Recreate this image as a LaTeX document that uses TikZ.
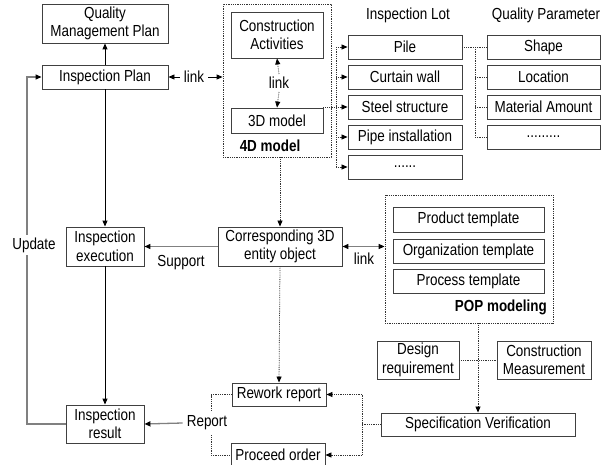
\documentclass[tikz,border=0pt]{standalone}
\usepackage{fontspec}
\setmainfont{Liberation Sans}[FakeStretch=0.84]
\usetikzlibrary{arrows.meta}

\tikzset{
  box/.style={draw=black!75, line width=0.9pt, fill=white, inner sep=0pt, align=center},
  frame/.style={draw=black!80, line width=0.8pt, densely dotted, inner sep=0pt},
  lbl/.style={inner sep=3pt, fill=white},
  head/.style={inner sep=0pt},
  solidarr/.style={draw=black, line width=0.9pt, -{Triangle[length=6pt,width=5pt]}},
  grayline/.style={draw=black!50, line width=1.3pt},
  grayarr/.style={grayline, -{Triangle[length=6pt,width=5pt,color=black]}},
  grayboth/.style={grayline, {Triangle[length=6pt,width=5pt,color=black]}-{Triangle[length=6pt,width=5pt,color=black]}},
  dotline/.style={draw=black!80, line width=0.8pt, densely dotted},
  dotarr/.style={dotline, -{Triangle[length=6pt,width=5pt,color=black]}},
}

% box given by its corners: name, x1, y1, x2, y2, text
\newcommand\bx[6]{\node[box, minimum width={(#4-#2)*1pt}, minimum height={(#5-#3)*1pt}]
  (#1) at ({(#2+#4)/2},{(#3+#5)/2}) {#6};}
% dotted grouping frame: name, x1, y1, x2, y2
\newcommand\fr[5]{\node[frame, minimum width={(#4-#2)*1pt}, minimum height={(#5-#3)*1pt}]
  (#1) at ({(#2+#4)/2},{(#3+#5)/2}) {};}

\begin{document}
\begin{tikzpicture}[x=1pt, y=-1pt, font=\fontsize{16}{18.5}\selectfont]
\useasboundingbox (0,0) rectangle (610,465);

% ---- planning side
\bx{qmp}{42}{4}{168}{43}{Quality\\Management Plan}
\bx{iplan}{42}{65}{168}{89}{Inspection Plan}

% ---- 4D model group
\fr{fourd}{223}{4}{331}{157}
\bx{ca}{231}{12}{323}{58}{Construction\\Activities}
\bx{m3d}{231}{108}{323}{133}{3D model}
\node[head, font=\fontsize{16}{18.5}\selectfont\bfseries] (fourdlbl) at (270,146) {4D model};

% ---- inspection lots
\node[head] (lothead) at (408,15) {Inspection Lot};
\bx{pile}{348}{35}{462}{59}{Pile}
\bx{curtain}{348}{65}{462}{89}{Curtain wall}
\bx{steel}{348}{95}{462}{119}{Steel structure}
\bx{pipe}{348}{125}{462}{149}{Pipe installation}
\bx{lotmore}{348}{155}{462}{179}{......}

% ---- quality parameters
\node[head] (qphead) at (546,15) {Quality Parameter};
\bx{shape}{487}{35}{600}{59}{Shape}
\bx{location}{487}{65}{600}{89}{Location}
\bx{material}{487}{95}{600}{119}{Material Amount}
\bx{qpmore}{487}{125}{600}{149}{.........}

% ---- execution row
\bx{iexec}{66}{227}{144}{266}{Inspection\\execution}
\bx{corr}{218}{227}{342}{266}{Corresponding 3D\\entity object}

% ---- POP modeling group
\fr{pop}{385}{195}{553}{323}
\bx{prod}{393}{207}{544}{232}{Product template}
\bx{org}{393}{239}{544}{263}{Organization template}
\bx{proc}{393}{269}{544}{293}{Process template}
\node[head, font=\fontsize{16}{18.5}\selectfont\bfseries, anchor=east] (poplbl) at (547,307) {POP modeling};

% ---- verification
\bx{design}{377}{341}{459}{379}{Design\\requirement}
\bx{cmeas}{497}{341}{591}{379}{Construction\\Measurement}
\bx{spec}{381}{413}{575}{436}{Specification Verification}

% ---- results
\bx{iresult}{66}{405}{144}{443}{Inspection\\result}
\bx{rework}{232}{383}{326}{406}{Rework report}
\bx{proceed}{231}{443}{325}{467}{Proceed order}

% ---- helper points for buses and brackets
\coordinate (lbus) at (336,47);
\coordinate (lbusend) at (336,167);
\coordinate (qbus) at (475,47);
\coordinate (qbusend) at (475,137);
\coordinate (upx) at (27,0);
\coordinate (brl) at (211,0);
\coordinate (brr) at (362,0);

% ---- connectors
\draw[solidarr] (iplan.north) -- (qmp.north |- qmp.south);
\draw[solidarr] (iplan.south) -- (iexec.north);
\draw[solidarr] (iexec.south) -- (iresult.north);

% plan <-> 4D model
\node[lbl, inner sep=4pt] (link1) at (194,77) {link};
\draw[draw=black, line width=0.9pt, -{Triangle[length=6pt,width=5pt]}] (link1.west) -- (iplan.east);
\draw[draw=black, line width=0.9pt, -{Triangle[length=6pt,width=5pt]}] (link1.east) -- (fourd.west |- link1.east);

% activities <-> 3D model
\node[lbl, fill=none] (link2) at (279,83) {link};
\draw[dotarr] (link2.north) -- (ca.south);
\draw[dotarr] (link2.south) -- (m3d.north);

% 3D model -> inspection lots
\draw[dotline] (m3d.east |- steel.west) -- (lbus |- steel.west);
\draw[dotline] (lbus) -- (lbusend);
\foreach \n in {pile,curtain,steel,pipe,lotmore}
  \draw[dotarr] (lbus |- \n.west) -- (\n.west);

% pile -> quality parameters
\draw[dotline] (pile.east) -- (shape.west);
\draw[dotline] (qbus) -- (qbusend);
\foreach \n in {location,material,qpmore}
  \draw[dotline] (qbus |- \n.west) -- (\n.west);

% 4D model -> entity object -> rework report
\draw[dotarr] (corr.north |- fourd.south) -- (corr.north);
\draw[dotarr] (corr.south) -- (rework.north);

% support and POP link
\draw[grayarr] (corr.west) -- (iexec.east);
\node[head] (support) at (181,263) {Support};
\draw[grayboth] (corr.east) -- (pop.west |- corr.east);
\node[head] (link3) at (364,259) {link};

% POP -> specification verification
\draw[dotarr] (spec.north |- pop.south) -- (spec.north);
\draw[dotline] (design.east) -- (cmeas.west);

% verification bracket
\draw[dotline] (spec.west) -- (spec.west -| brr);
\draw[dotline] (rework.east -| brr) -- (proceed.east -| brr);
\draw[dotarr] (rework.east -| brr) -- (rework.east);
\draw[dotarr] (proceed.east -| brr) -- (proceed.east);

% report bracket
\draw[dotline] (rework.west) -- (rework.west -| brl) -- (proceed.west -| brl) -- (proceed.west);
\node[lbl, inner sep=4pt] (report) at (207,423) {Report};
\draw[grayarr] (report.west) -- (iresult.east);

% update loop
\draw[grayline, -{Triangle[length=6pt,width=5pt,color=black]}]
  (iresult.west) -- (iresult.west -| upx) -- (iplan.west -| upx) -- (iplan.west);
\node[lbl] (update) at (34,245) {Update};
\end{tikzpicture}
\end{document}
